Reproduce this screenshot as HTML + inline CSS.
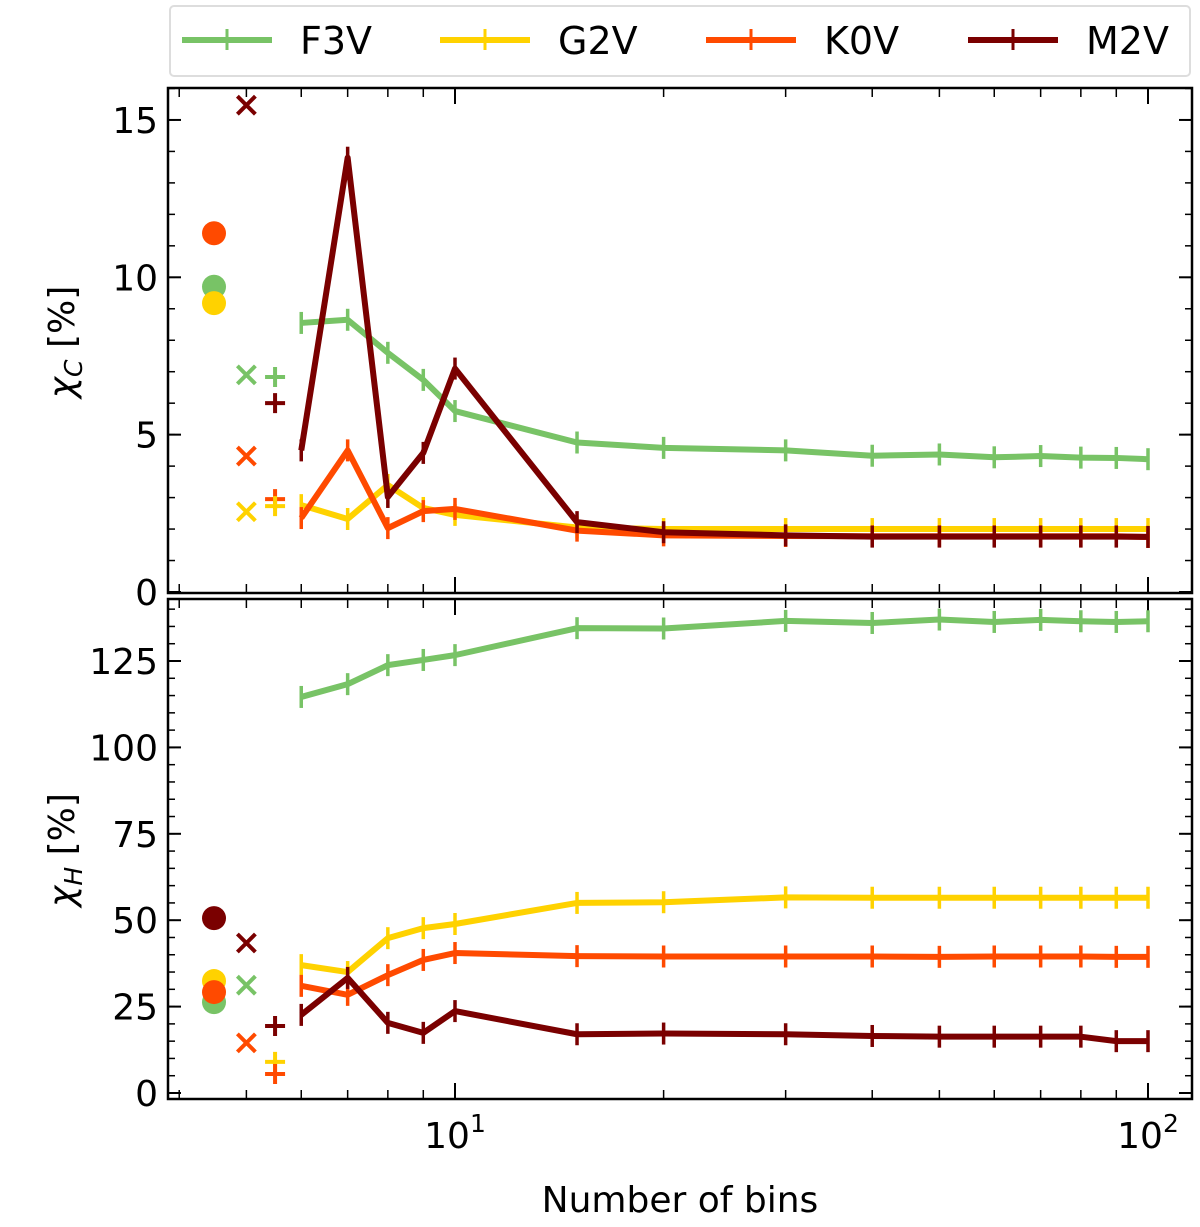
<!DOCTYPE html>
<html><head><meta charset="utf-8"><style>
body{margin:0;background:#fff;font-family:"Liberation Sans","DejaVu Sans",sans-serif}
svg text{font-family:"DejaVu Sans","Liberation Sans",sans-serif}
</style></head><body>
<svg id="chart" width="1200" height="1222" xmlns="http://www.w3.org/2000/svg"></svg>
<script>
const bins=[6,7,8,9,10,15,20,30,40,50,60,70,80,90,100];
const seriesNames=["F3V","G2V","K0V","M2V"];
const colors=["#78c366","#ffd200","#ff4a00","#7a0000"];
const topF3V=[8.55,8.65,7.6,6.74,5.75,4.75,4.58,4.5,4.33,4.37,4.28,4.32,4.27,4.26,4.22];
const topG2V=[2.76,2.32,3.4,2.67,2.45,2.05,2.0,2.0,2.0,2.0,2.0,2.0,2.0,2.0,2.0];
const topK0V=[2.35,4.5,2.03,2.57,2.64,1.95,1.8,1.78,1.77,1.77,1.77,1.77,1.77,1.77,1.75];
const topM2V=[4.5,13.8,3.02,4.42,7.1,2.22,1.9,1.8,1.76,1.76,1.76,1.76,1.76,1.76,1.75];
const botF3V=[114.6,118.3,123.8,125.3,126.7,134.5,134.4,136.6,136.0,137.0,136.3,136.9,136.5,136.3,136.5];
const botG2V=[37,35,44.8,47.7,48.9,55,55.2,56.6,56.5,56.5,56.5,56.5,56.5,56.5,56.5];
const botK0V=[31,28.4,34.1,38.5,40.5,39.6,39.5,39.5,39.5,39.4,39.5,39.5,39.5,39.4,39.4];
const botM2V=[22.6,33.3,20.3,17.4,23.7,17,17.2,17,16.5,16.3,16.3,16.3,16.3,15,15];
const topCircles=[[2,11.4],[0,9.7],[1,9.18]];
const topCrosses=[[3,15.47],[0,6.9],[2,4.32],[1,2.55]];
const topPluses=[[0,6.83],[3,6.0],[2,2.95],[1,2.73]];
const botCircles=[[3,50.6],[1,32.4],[0,26.3],[2,29.2]];
const botCrosses=[[3,43.4],[0,31.2],[2,14.5]];
const botPluses=[[3,19.4],[1,9],[2,5.5]];
const circleX=4.49, crossX=5.0, plusX=5.5;
const topTicks=[0,5,10,15], botTicks=[0,25,50,75,100,125];

const svg=document.getElementById('chart');
const NS="http://www.w3.org/2000/svg";
function el(t,a,p){const e=document.createElementNS(NS,t);for(const k in a)e.setAttribute(k,a[k]);(p||svg).appendChild(e);return e;}
const X=v=>455+(Math.log10(v)-1)*693;
const L=168,R=1192;
const Yt=v=>592-v*31.47;
const Yb=v=>1093-v*3.456;

function panel(name,top,bot,Y,ticks,minorStep,maxV,series,circles,crosses,pluses){
  const g=el('g',{});
  
  
  el('rect',{x:L,y:top,width:R-L,height:bot-top,fill:'none',stroke:'#000','stroke-width':2.5},g);
  for(let v=0;v<=maxV;v+=minorStep){const y=Y(v);if(y<top||y>bot)continue;
    el('line',{x1:L,x2:L+7,y1:y,y2:y,stroke:'#000','stroke-width':1.5},g);
    el('line',{x1:R,x2:R-7,y1:y,y2:y,stroke:'#000','stroke-width':1.5},g);}
  ticks.forEach(v=>{const y=Y(v);
    el('line',{x1:L,x2:L+13,y1:y,y2:y,stroke:'#000','stroke-width':2},g);
    el('line',{x1:R,x2:R-13,y1:y,y2:y,stroke:'#000','stroke-width':2},g);
    const t=el('text',{x:L-10,y:y+13,'text-anchor':'end','font-size':36,fill:'#000'},g);t.textContent=v;
    
    });
  [4,5,6,7,8,9,20,30,40,50,60,70,80,90].forEach(v=>{const x=X(v);
    el('line',{x1:x,x2:x,y1:bot,y2:bot-9,stroke:'#000','stroke-width':1.5},g);
    el('line',{x1:x,x2:x,y1:top,y2:top+9,stroke:'#000','stroke-width':1.5},g);});
  [10,100].forEach(v=>{const x=X(v);
    el('line',{x1:x,x2:x,y1:bot,y2:bot-16,stroke:'#000','stroke-width':2},g);
    el('line',{x1:x,x2:x,y1:top,y2:top+16,stroke:'#000','stroke-width':2},g);});
  series.forEach((s,i)=>{
    const pts=bins.map((b,j)=>X(b)+','+Y(s[j])).join(' ');
    const pl=el('polyline',{points:pts,fill:'none',stroke:colors[i],'stroke-width':6,'stroke-linejoin':'round'},g);
    
    
    bins.forEach((b,j)=>el('line',{x1:X(b),x2:X(b),y1:Y(s[j])-11,y2:Y(s[j])+11,stroke:colors[i],'stroke-width':3.5},g));
  });
  circles.forEach(([i,v])=>{const c=el('circle',{cx:X(circleX),cy:Y(v),r:12,fill:colors[i]},g);
    });
  crosses.forEach(([i,v])=>{const x=X(crossX),y=Y(v),d=9;
    el('path',{d:`M${x-d},${y-d}L${x+d},${y+d}M${x-d},${y+d}L${x+d},${y-d}`,stroke:colors[i],'stroke-width':4},g);});
  pluses.forEach(([i,v])=>{const x=X(plusX),y=Y(v),d=10;
    el('path',{d:`M${x-d},${y}L${x+d},${y}M${x},${y-d}L${x},${y+d}`,stroke:colors[i],'stroke-width':4},g);});
}
panel('top-panel',88,593,Yt,topTicks,1,16,[topF3V,topG2V,topK0V,topM2V],topCircles,topCrosses,topPluses);
panel('bottom-panel',599,1099,Yb,botTicks,5,145,[botF3V,botG2V,botK0V,botM2V],botCircles,botCrosses,botPluses);

[[10,'1'],[100,'2']].forEach(([v,e])=>{const t=el('text',{x:X(v),y:1148,'text-anchor':'middle','font-size':36});
  
  t.innerHTML='10<tspan dy="-16" font-size="25">'+e+'</tspan>';});
const xl=el('text',{x:680,y:1212,'text-anchor':'middle','font-size':36});xl.textContent='Number of bins';

const y1=el('text',{transform:'translate(74,342) rotate(-90)','text-anchor':'middle','font-size':36});
y1.innerHTML='<tspan font-style="italic">χ</tspan><tspan font-style="italic" font-size="25" dy="8">C</tspan><tspan dy="-8"> [%]</tspan>';

const y2=el('text',{transform:'translate(74,850) rotate(-90)','text-anchor':'middle','font-size':36});
y2.innerHTML='<tspan font-style="italic">χ</tspan><tspan font-style="italic" font-size="25" dy="8">H</tspan><tspan dy="-8"> [%]</tspan>';


const lg=el('g',{});


el('rect',{x:170,y:6,width:1020,height:70,rx:4,fill:'#fff',stroke:'#ddd','stroke-width':2},lg);
const lx=[182,440,706,968];
seriesNames.forEach((n,i)=>{
  const e=el('g',{},lg);
  
  
  el('line',{x1:lx[i],x2:lx[i]+90,y1:40,y2:40,stroke:colors[i],'stroke-width':6},e);
  el('line',{x1:lx[i]+45,x2:lx[i]+45,y1:29,y2:50,stroke:colors[i],'stroke-width':3},e);
  const t=el('text',{x:lx[i]+118,y:54,'font-size':38},e);t.textContent=n;
});
</script>
</body></html>
